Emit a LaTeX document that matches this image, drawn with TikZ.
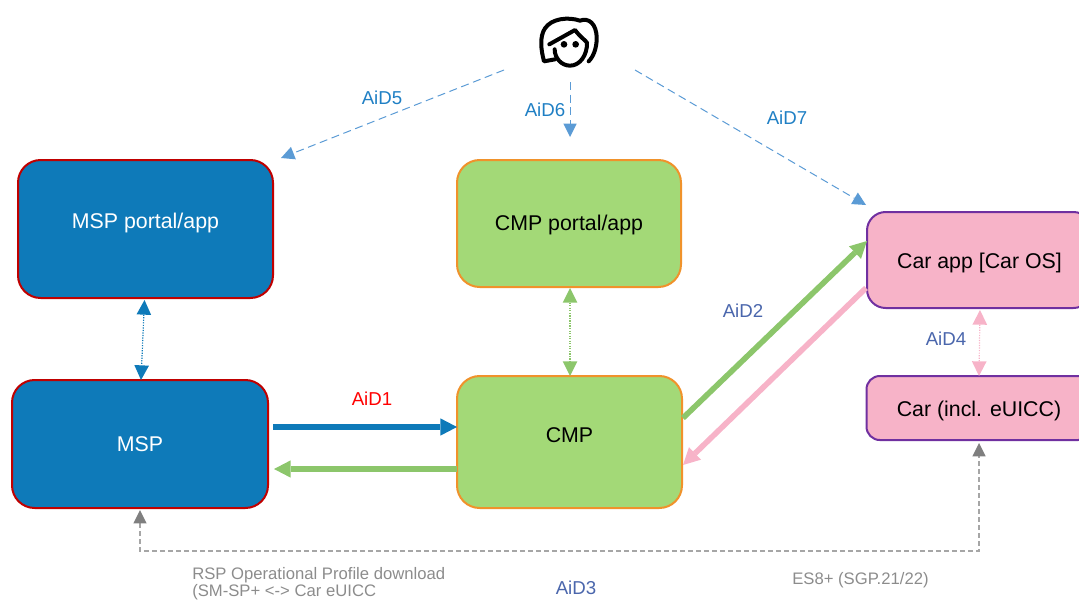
\documentclass[tikz,border=0pt]{standalone}
\usepackage{fontspec}
\setmainfont{Liberation Sans}
\usetikzlibrary{arrows.meta}
\definecolor{mspblue}{HTML}{0E7AB9}
\definecolor{mspred}{HTML}{C00000}
\definecolor{cmpgreen}{HTML}{A3D977}
\definecolor{cmporange}{HTML}{F0922B}
\definecolor{carpink}{HTML}{F7B3C8}
\definecolor{carpurple}{HTML}{7030A0}
\definecolor{arrgreen}{HTML}{8CC66B}
\definecolor{dashblue}{HTML}{5B9BD5}
\definecolor{lblblue}{HTML}{1F7FC4}
\definecolor{lblindigo}{HTML}{4A66AC}
\definecolor{arrgrey}{HTML}{7F7F7F}
\definecolor{linegrey}{HTML}{A6A6A6}
\definecolor{txtgrey}{HTML}{8C8C8C}
\newcommand{\upby}[2]{\raisebox{#1}[\height][\depth]{#2}}
\tikzset{
  px/.style={x=0.75pt,y=-0.75pt},
  boxbase/.style={draw,line width=1.5pt,outer sep=0pt,inner sep=0pt,font=\fontsize{16}{19}\selectfont},
  mspbox/.style={boxbase,fill=mspblue,draw=mspred,text=white,rounded corners=17pt},
  cmpbox/.style={boxbase,fill=cmpgreen,draw=cmporange,text=black,rounded corners=17pt},
  carbox/.style={boxbase,fill=carpink,draw=carpurple,text=black},
  lbl/.style={font=\fontsize{14}{17}\selectfont,inner sep=0pt},
  note/.style={font=\fontsize{12.5}{15}\selectfont,text=txtgrey,inner sep=0pt,anchor=west},
  thickarrow/.style={line width=4.2pt,-{Triangle[length=12.5pt,width=13pt,fill=#1,line width=0pt]},draw=#1},
  dotarrow/.style={line width=.9pt,densely dotted,{Triangle[length=11pt,width=11pt,fill=#1,line width=0pt]}-{Triangle[length=11pt,width=11pt,fill=#1,line width=0pt]},draw=#1},
  dasharrow/.style={line width=.75pt,dash pattern=on 6pt off 3.5pt,-{Triangle[length=10pt,width=10pt,fill=dashblue,line width=0pt]},draw=dashblue},
  greyarrow/.style={line width=.9pt,dash pattern=on 3.5pt off 2.5pt,draw=linegrey,{Triangle[length=10pt,width=10pt,fill=arrgrey,line width=0pt]}-{Triangle[length=10pt,width=10pt,fill=arrgrey,line width=0pt]}},
  iconline/.style={line width=3pt,line cap=round,line join=round,draw=black}
}
\begin{document}
\begin{tikzpicture}[px]
\useasboundingbox (0,0) rectangle (1079,601);
\clip (0,0) rectangle (1079,601);
% boxes
\node[mspbox,minimum width=191.25pt,minimum height=103.5pt] (mspp) at (145.5,229) {\upby{4.5pt}{MSP portal/app}};
\node[mspbox,minimum width=192pt,minimum height=96pt] (msp) at (140,444) {MSP};
\node[cmpbox,minimum width=168pt,minimum height=95.25pt] (cmpp) at (569,223.5) {\upby{-0.75pt}{CMP portal/app}};
\node[cmpbox,minimum width=168.75pt,minimum height=99pt] (cmp) at (569.5,442) {\upby{5.25pt}{CMP}};
\node[carbox,rounded corners=14pt,minimum width=168.75pt,minimum height=72pt] (carapp) at (979.5,260) {\upby{-2.25pt}{Car app [Car OS]}};
\node[carbox,rounded corners=10pt,minimum width=168.75pt,minimum height=48pt] (car) at (979,408) {\upby{-2.25pt}{Car (incl. eUICC)}};
% person
\node[minimum width=51pt,minimum height=51pt,inner sep=0pt,outer sep=0pt] (person) at (569,38) {};
\begin{scope}[shift={(480,0)},x=0.25pt,y=-0.25pt]
  \draw[iconline] (225,178) -- (192,184) .. controls (183,150) and (178,110) .. (195,85)
    .. controls (215,55) and (265,50) .. (300,62) .. controls (325,52) and (350,70) .. (350,115)
    .. controls (350,145) and (340,170) .. (326,184);
  \draw[iconline] (208,133) -- (285,90) .. controls (300,110) and (315,120) .. (321,128)
    .. controls (322,165) and (300,197) .. (270,197) .. controls (245,197) and (224,175) .. (224,148);
  \fill (252,133) circle[radius=10];
  \fill (287,133) circle[radius=10];
\end{scope}
% connectors
\draw[thickarrow=mspblue] ([shift={(5,-17)}]msp.east) -- ([shift={(0,-15)}]cmp.west);
\draw[thickarrow=arrgreen] ([shift={(0,27)}]cmp.west) -- ([shift={(6,25)}]msp.east);
\draw[thickarrow=arrgreen] ([shift={(1,-24)}]cmp.east) -- ([shift={(0,-19)}]carapp.west);
\draw[thickarrow=carpink] ([shift={(-1,28)}]carapp.west) -- ([shift={(1,23)}]cmp.east);
\draw[dotarrow=mspblue] ([shift={(-1,2)}]mspp.south) -- ([shift={(1,0)}]msp.north);
\draw[dotarrow=arrgreen] ([shift={(1,1)}]cmpp.south) -- ([shift={(0.5,0)}]cmp.north);
\draw[dotarrow=carpink] ([shift={(0.5,2)}]carapp.south) -- (car.north);
\draw[dasharrow] ([shift={(-65,32)}]person.center) -- ([shift={(8,-2)}]mspp.north east);
\draw[dasharrow] ([shift={(1,44)}]person.center) -- ([shift={(1,-23)}]cmpp.north);
\draw[dasharrow] ([shift={(66,32)}]person.center) -- ([shift={(-1,-7)}]carapp.north west);
\draw[greyarrow] ([shift={(0,2)}]msp.south) -- ++(0,41) -| ([shift={(0,3)}]car.south);
% labels
\node[lbl,text=lblblue] (l5) at (382,98) {AiD5};
\node[lbl,text=lblblue] (l6) at (545,110) {AiD6};
\node[lbl,text=lblblue] (l7) at (787,118) {AiD7};
\node[lbl,text=red] (l1) at (372,399) {AiD1};
\node[lbl,text=lblindigo] (l2) at (743,311) {AiD2};
\node[lbl,text=lblindigo] (l4) at (946,339) {AiD4};
\node[lbl,text=lblindigo] (l3) at (576,588) {AiD3};
\node[note] (n1) at (192,575.5) {RSP Operational Profile download};
\node[note] (n2) at (192,592.5) {(SM-SP+ <-> Car eUICC};
\node[note] (n3) at (792,580) {ES8+ (SGP.21/22)};
\end{tikzpicture}
\end{document}
